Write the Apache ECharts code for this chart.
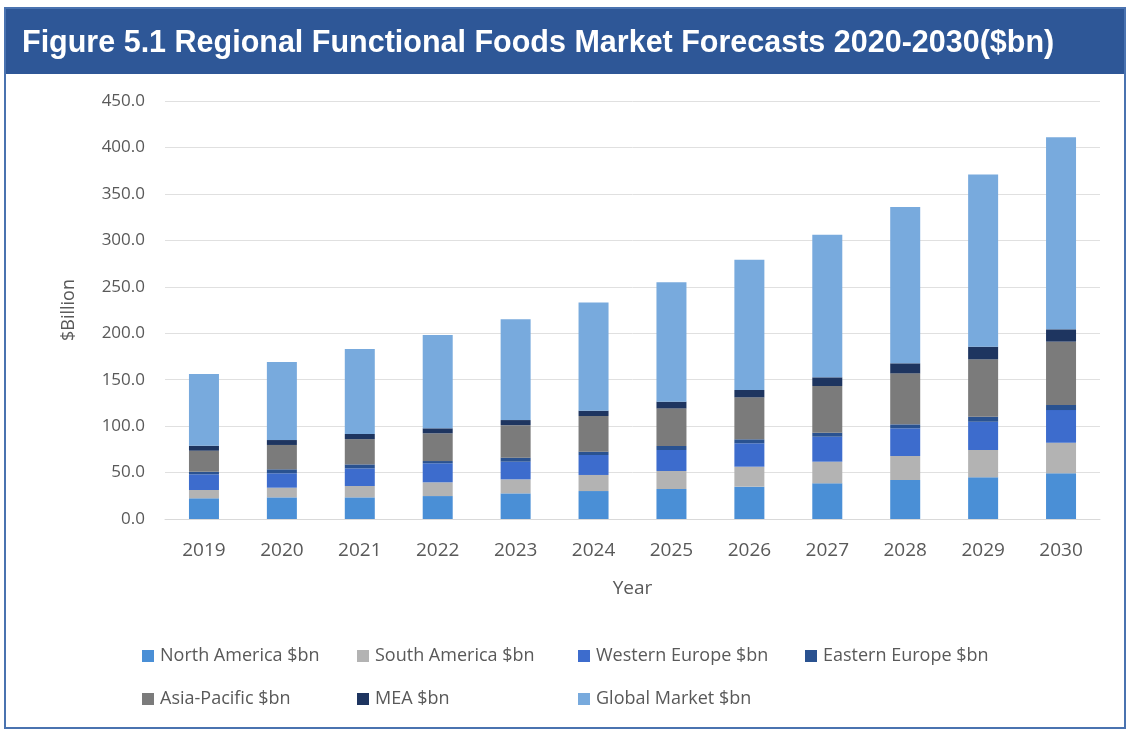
<!DOCTYPE html>
<html>
<head>
<meta charset="utf-8">
<script src="https://cdn.jsdelivr.net/npm/echarts@6/dist/echarts.min.js"></script>
<style>
html,body{margin:0;padding:0;background:#fff;}
#chart{width:1129px;height:731px;}
</style>
</head>
<body>
<div id="chart"></div>
<script>
const years = ['2019','2020','2021','2022','2023','2024','2025','2026','2027','2028','2029','2030'];
const northAmerica = [22.3, 23.3, 23.3, 24.7, 27.6, 30.1, 32.3, 34.8, 38.4, 42.0, 44.9, 49.2];
const southAmerica = [8.9, 10.4, 12.2, 14.8, 15.1, 17.3, 19.4, 21.5, 23.3, 25.8, 29.4, 32.9];
const westernEurope = [16.9, 15.5, 19.0, 20.5, 19.0, 21.5, 22.6, 25.2, 26.9, 29.8, 30.4, 35.2];
const easternEurope = [2.8, 4.3, 4.3, 2.4, 4.3, 3.6, 4.3, 4.3, 4.3, 4.3, 5.4, 5.4];
const asiaPacific = [22.6, 26.2, 27.2, 29.8, 35.0, 38.4, 40.5, 45.2, 50.3, 54.9, 61.8, 68.2];
const mea = [5.4, 5.3, 5.5, 5.4, 5.5, 5.7, 7.2, 7.9, 9.3, 10.8, 13.6, 13.3];
const globalMarket = [77.1, 84.0, 91.5, 100.4, 108.5, 116.4, 128.7, 140.1, 153.5, 168.4, 185.5, 206.8];
const seriesNames = ['North America $bn','South America $bn','Western Europe $bn','Eastern Europe $bn','Asia-Pacific $bn','MEA $bn','Global Market $bn'];
const seriesData = [northAmerica, southAmerica, westernEurope, easternEurope, asiaPacific, mea, globalMarket];
const colors = ['#4a8fd6','#b3b3b3','#3d6ccd','#2a5290','#7b7b7b','#1e3560','#78aadd'];
const titleText = 'Figure 5.1 Regional Functional Foods Market Forecasts 2020-2030($bn)';

const font = '"Open Sans", Lato, sans-serif';
const legendPos = [[142,647],[357,647],[578,647],[805,647],[142,690],[357,690],[578,690]];

const chart = echarts.init(document.getElementById('chart'), null, {renderer:'canvas'});
const option = {
  animation:false,
  backgroundColor:'#ffffff',
  color: colors,
  graphic:[
    {type:'rect', shape:{x:5,y:8,width:1120,height:66}, style:{fill:'#2e5797'}, z:0},
    {type:'rect', shape:{x:5,y:8,width:1120,height:720}, style:{fill:'none', stroke:'#4a73b0', lineWidth:2}, z:0},
    {type:'text', left:22, top:28, style:{text:titleText, fill:'#ffffff', font:'bold 30.5px "Liberation Sans", Arial, sans-serif'}, z:10}
  ],
  legend: seriesNames.map((n,i)=>({
    data:[n], left:legendPos[i][0], top:legendPos[i][1], padding:0,
    icon:'rect', itemWidth:12, itemHeight:12, itemGap:5,
    textStyle:{color:'#595959', fontSize:18, fontFamily:font, padding:[0,0,0,1]},
    selectedMode:false
  })),
  grid:{left:165, right:29, top:101, bottom:212, containLabel:false},
  xAxis:{
    type:'category', data:years,
    name:'Year', nameLocation:'middle', nameGap:60,
    nameTextStyle:{color:'#595959', fontSize:19, fontFamily:font},
    axisLine:{lineStyle:{color:'#d9d9d9', width:1}},
    axisTick:{show:false},
    axisLabel:{color:'#595959', fontSize:19, fontFamily:font, margin:22}
  },
  yAxis:{
    type:'value', min:0, max:450, interval:50,
    name:'$Billion', nameLocation:'middle', nameGap:87, nameRotate:90,
    nameTextStyle:{color:'#595959', fontSize:18, fontFamily:font},
    axisLine:{show:false}, axisTick:{show:false},
    splitLine:{lineStyle:{color:'#e0e0e0', width:1}},
    axisLabel:{color:'#595959', fontSize:17, fontFamily:font, margin:20, formatter:v=>v.toFixed(1)}
  },
  series: seriesNames.map((n,i)=>({
    name:n, type:'bar', stack:'total', data:seriesData[i], barWidth:30,
    itemStyle:{color:colors[i]}
  }))
};
chart.setOption(option);
</script>
</body>
</html>
